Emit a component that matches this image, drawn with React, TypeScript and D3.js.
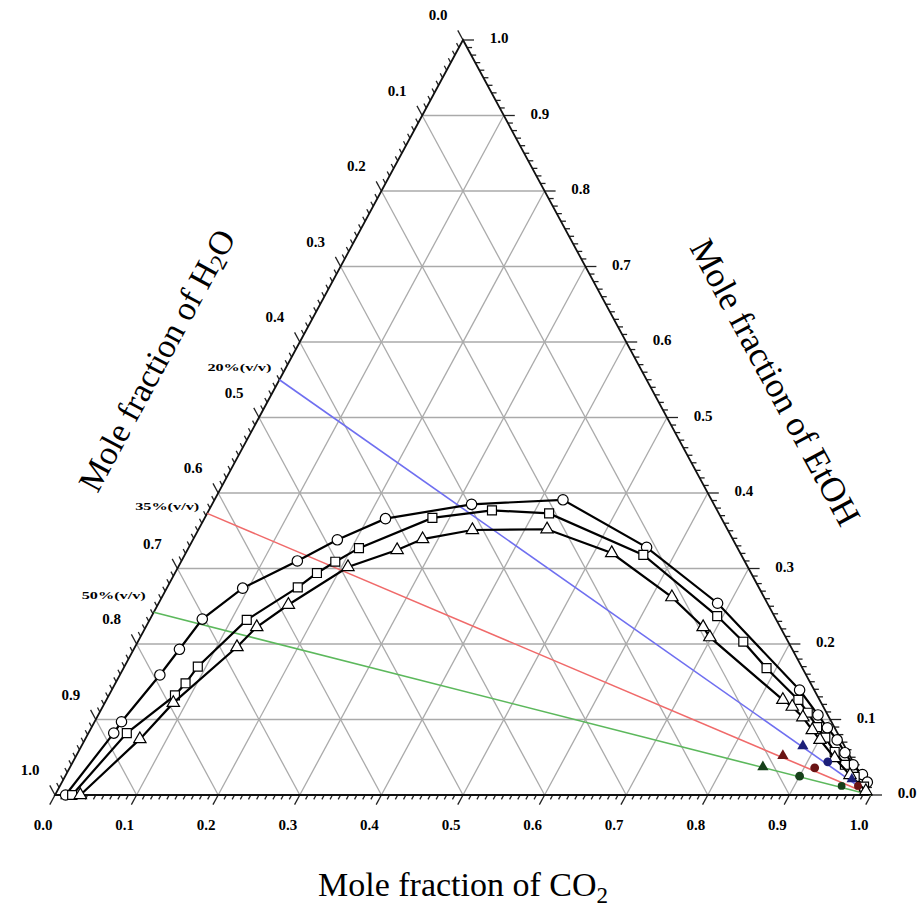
import React from 'react';
import * as d3 from 'd3';

const WIDTH = 918;
const HEIGHT = 915;

// axis ticks / labels (mole fraction)
const majorTicks = [0, 0.1, 0.2, 0.3, 0.4, 0.5, 0.6, 0.7, 0.8, 0.9, 1.0];
const tickLabels = ['0.0', '0.1', '0.2', '0.3', '0.4', '0.5', '0.6', '0.7', '0.8', '0.9', '1.0'];
const gridValues = [0.1, 0.2, 0.3, 0.4, 0.5, 0.6, 0.7, 0.8, 0.9];

// open-symbol phase boundary series: [CO2, EtOH] mole fractions
const circleCO2 = [0.013, 0.031, 0.033, 0.049, 0.056, 0.064, 0.093, 0.142, 0.177, 0.222, 0.318, 0.427, 0.561, 0.685, 0.843, 0.882, 0.902, 0.922, 0.940, 0.958, 0.976, 0.987];
const circleEtOH = [0, 0.082, 0.097, 0.159, 0.193, 0.233, 0.274, 0.310, 0.338, 0.366, 0.385, 0.391, 0.328, 0.254, 0.139, 0.106, 0.089, 0.073, 0.056, 0.040, 0.027, 0.017];

const squareCO2 = [0.021, 0.047, 0.081, 0.086, 0.090, 0.119, 0.160, 0.174, 0.189, 0.209, 0.279, 0.347, 0.419, 0.562, 0.693, 0.742, 0.788, 0.848, 0.868, 0.889, 0.906, 0.927, 0.948, 0.968, 0.986];
const squareEtOH = [0, 0.082, 0.132, 0.148, 0.170, 0.232, 0.275, 0.294, 0.309, 0.327, 0.367, 0.377, 0.373, 0.318, 0.237, 0.203, 0.168, 0.126, 0.109, 0.090, 0.076, 0.057, 0.040, 0.024, 0.011];

const triangleCO2 = [0.031, 0.067, 0.084, 0.125, 0.136, 0.160, 0.208, 0.257, 0.281, 0.336, 0.427, 0.522, 0.625, 0.683, 0.698, 0.829, 0.845, 0.865, 0.885, 0.901, 0.931, 0.961, 0.991];
const triangleEtOH = [0, 0.074, 0.122, 0.196, 0.2225, 0.252, 0.302, 0.3245, 0.339, 0.351, 0.352, 0.3205, 0.262, 0.2225, 0.209, 0.126, 0.117, 0.103, 0.086, 0.073, 0.049, 0.0265, 0.0053];

// operating (mixing) lines: feed EtOH fraction on the H2O-EtOH edge -> pure CO2
const mixLabels = ['20%(v/v)', '35%(v/v)', '50%(v/v)'];
const mixStartEtOH = [0.55, 0.373, 0.242];
const mixColors = ['#6f6ff0', '#f06a6a', '#5cb85c'];
const mixMarkerColors = ['#1c1f78', '#6a1414', '#17401a'];

// filled experimental points along each mixing line
const filledTriCO2 = [0.884, 0.866, 0.849];
const filledTriEtOH = [0.065, 0.052, 0.037];
const filledCircCO2 = [0.925, 0.913, 0.900];
const filledCircEtOH = [0.044, 0.036, 0.025];
const filledEndCO2 = [0.966, 0.978, 0.958];
const filledEndEtOH = [0.021, 0.012, 0.012];

const x0 = 55, x1 = 871, yB = 795, yT = 40;
const xScale = d3.scaleLinear().domain([0, 1]).range([x0, x1]);
const yScale = d3.scaleLinear().domain([0, 1]).range([yB, yT]);
const P = (c: number, e: number): [number, number] => [xScale(c + e / 2), yScale(e)];

const norm = (v: [number, number]): [number, number] => {
  const l = Math.hypot(v[0], v[1]);
  return [v[0] / l, v[1] / l];
};

export default function App() {
  const top = P(0, 1), bl = P(0, 0), br = P(1, 0);
  const dirBottom = norm([bl[0] - top[0], bl[1] - top[1]]); // down-left
  const dirLeft = norm([top[0] - br[0], top[1] - br[1]]); // up-left
  const dirRight: [number, number] = [1, 0];

  const lineGen = d3.line<[number, number]>().x(d => P(d[0], d[1])[0]).y(d => P(d[0], d[1])[1]);

  const series = [
    { co2: circleCO2, etoh: circleEtOH, shape: d3.symbolCircle, size: 85 },
    { co2: squareCO2, etoh: squareEtOH, shape: d3.symbolSquare, size: 80 },
    { co2: triangleCO2, etoh: triangleEtOH, shape: d3.symbolTriangle, size: 66 },
  ];

  const ticks = d3.range(0, 101).map(i => i / 100);
  const tickLen = (i: number) => (i % 10 === 0 ? 11 : 5);
  const font = "'Liberation Serif', 'Times New Roman', serif";

  const gridLines: [number, number, number, number][] = [];
  gridValues.forEach(v => {
    const a = P(0, v), b = P(1 - v, v); // const EtOH
    gridLines.push([a[0], a[1], b[0], b[1]]);
    const c = P(v, 0), d = P(v, 1 - v); // const CO2
    gridLines.push([c[0], c[1], d[0], d[1]]);
    const e = P(0, 1 - v), f = P(1 - v, 0); // const H2O
    gridLines.push([e[0], e[1], f[0], f[1]]);
  });

  const titleAngle = (Math.atan2(yB - yT, (x1 - x0) / 2) * 180) / Math.PI;

  return (
    <svg width={WIDTH} height={HEIGHT} style={{ position: 'absolute', left: 0, top: 0, background: '#fff' }}>
      <rect width={WIDTH} height={HEIGHT} fill="#fff" />
      {/* grid */}
      {gridLines.map((g, i) => (
        <line key={'g' + i} x1={g[0]} y1={g[1]} x2={g[2]} y2={g[3]} stroke="#aaaaaa" strokeWidth={1.3} />
      ))}
      {/* ticks */}
      {ticks.map((v, i) => {
        const p = P(v, 0);
        const L = tickLen(i);
        return <line key={'tb' + i} x1={p[0]} y1={p[1]} x2={p[0] + dirBottom[0] * L} y2={p[1] + dirBottom[1] * L} stroke="#222" strokeWidth={1.3} />;
      })}
      {ticks.map((v, i) => {
        const p = P(1 - v, v);
        const L = tickLen(i);
        return <line key={'tr' + i} x1={p[0]} y1={p[1]} x2={p[0] + dirRight[0] * L} y2={p[1] + dirRight[1] * L} stroke="#222" strokeWidth={1.3} />;
      })}
      {ticks.map((v, i) => {
        const p = P(0, 1 - v);
        const L = tickLen(i);
        return <line key={'tl' + i} x1={p[0]} y1={p[1]} x2={p[0] + dirLeft[0] * L} y2={p[1] + dirLeft[1] * L} stroke="#222" strokeWidth={1.3} />;
      })}
      {/* triangle frame */}
      <path d={`M${bl[0]},${bl[1]}L${br[0]},${br[1]}L${top[0]},${top[1]}Z`} fill="none" stroke="#111" strokeWidth={1.8} />
      {/* tick labels */}
      {majorTicks.map((v, i) => {
        const p = P(v, 0);
        return <text key={'lb' + i} x={p[0] - 12} y={p[1] + 35} textAnchor="middle" fontFamily={font} fontWeight="bold" fontSize={15}>{tickLabels[i]}</text>;
      })}
      {majorTicks.map((v, i) => {
        const p = P(1 - v, v);
        return <text key={'lr' + i} x={p[0] + 36} y={p[1] + 3} textAnchor="middle" fontFamily={font} fontWeight="bold" fontSize={15}>{tickLabels[i]}</text>;
      })}
      {majorTicks.map((v, i) => {
        const p = P(0, 1 - v);
        return <text key={'ll' + i} x={p[0] - 25} y={p[1] - 20} textAnchor="middle" fontFamily={font} fontWeight="bold" fontSize={15}>{tickLabels[i]}</text>;
      })}
      {/* mixing lines */}
      {mixStartEtOH.map((e, i) => {
        const a = P(0, e), b = P(1, 0);
        return (
          <g key={'m' + i}>
            <line x1={a[0]} y1={a[1]} x2={b[0]} y2={b[1]} stroke={mixColors[i]} strokeWidth={1.6} />
            <text x={a[0] - 40} y={a[1] - [9, 3, 13][i]} textAnchor="middle" fontFamily={font} fontWeight="bold" fontSize={11} textLength={64} lengthAdjust="spacingAndGlyphs">{mixLabels[i]}</text>
          </g>
        );
      })}
      {/* phase boundary curves */}
      {series.map((s, si) => {
        const pts = s.co2.map((c, k) => [c, s.etoh[k]] as [number, number]);
        const sym = d3.symbol().type(s.shape).size(s.size)();
        return (
          <g key={'s' + si}>
            <path d={lineGen(pts) || ''} fill="none" stroke="#000" strokeWidth={2.2} />
            {pts.map((d, k) => {
              const p = P(d[0], d[1]);
              return <path key={k} d={sym || ''} transform={`translate(${p[0]},${p[1]})`} fill="#fff" stroke="#000" strokeWidth={1.2} />;
            })}
          </g>
        );
      })}
      {/* filled experimental points */}
      {filledTriCO2.map((c, i) => {
        const p = P(c, filledTriEtOH[i]);
        return <path key={'ft' + i} d={d3.symbol().type(d3.symbolTriangle).size(55)() || ''} transform={`translate(${p[0]},${p[1]})`} fill={mixMarkerColors[i]} />;
      })}
      {filledCircCO2.map((c, i) => {
        const p = P(c, filledCircEtOH[i]);
        return <circle key={'fc' + i} cx={p[0]} cy={p[1]} r={4.4} fill={mixMarkerColors[i]} />;
      })}
      {filledEndCO2.map((c, i) => {
        const p = P(c, filledEndEtOH[i]);
        return <path key={'fe' + i} d={d3.symbol().type(i === 0 ? d3.symbolTriangle : d3.symbolCircle).size(48)() || ''} transform={`translate(${p[0]},${p[1]})`} fill={mixMarkerColors[i]} />;
      })}
      {/* axis titles */}
      <text x={463} y={896} textAnchor="middle" fontFamily={font} fontSize={34}>
        Mole fraction of CO<tspan fontSize={23} dy={7}>2</tspan>
      </text>
      <text transform={`translate(160,362) rotate(${-titleAngle})`} textAnchor="middle" dominantBaseline="middle" fontFamily={font} fontSize={34}>
        Mole fraction of H<tspan fontSize={23} dy={7}>2</tspan><tspan dy={-7}>O</tspan>
      </text>
      <text transform={`translate(772,384) rotate(${titleAngle})`} textAnchor="middle" dominantBaseline="middle" fontFamily={font} fontSize={35}>
        Mole fraction of EtOH
      </text>
    </svg>
  );
}
